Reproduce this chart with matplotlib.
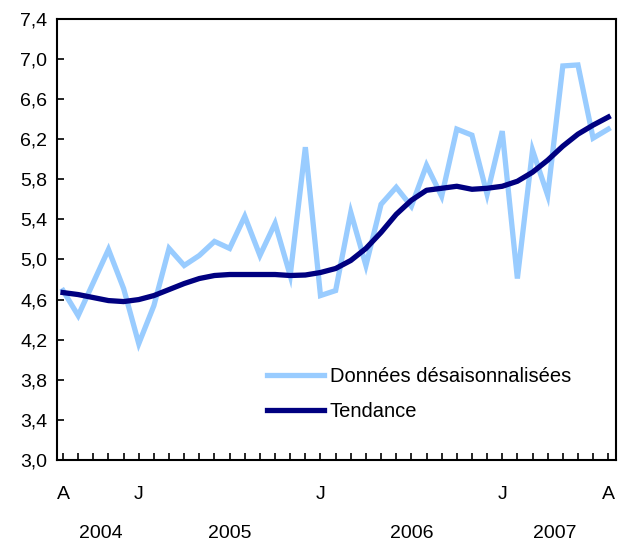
import numpy as np
import matplotlib.pyplot as plt
import matplotlib.transforms as mtransforms

plt.rcParams['font.family'] = ['Liberation Sans', 'DejaVu Sans']

# Monthly data, August 2004 to August 2007
adjusted = [4.69, 4.44, 4.77, 5.10, 4.71, 4.16, 4.54, 5.11, 4.94, 5.04,
            5.18, 5.11, 5.43, 5.04, 5.36, 4.84, 6.12, 4.64, 4.69, 5.47,
            4.94, 5.55, 5.72, 5.53, 5.94, 5.63, 6.30, 6.24, 5.65, 6.28,
            4.81, 6.09, 5.64, 6.93, 6.94, 6.21, 6.30]
trend = [4.67, 4.65, 4.62, 4.59, 4.58, 4.60, 4.64, 4.70, 4.76, 4.81,
         4.84, 4.85, 4.85, 4.85, 4.85, 4.84, 4.845, 4.87, 4.91, 4.99,
         5.11, 5.27, 5.45, 5.59, 5.69, 5.71, 5.73, 5.70, 5.71, 5.73,
         5.78, 5.87, 5.99, 6.13, 6.25, 6.34, 6.42]
month_labels = {0: 'A', 5: 'J', 17: 'J', 29: 'J', 36: 'A'}
years = ['2004', '2005', '2006', '2007']
year_centres = [2.5, 11, 23, 32.5]

months = np.arange(len(adjusted))

fig = plt.figure(figsize=(6.18, 5.44), dpi=100)
ax = fig.add_axes([0.0922, 0.1544, 0.905, 0.811])

ax.plot(months, adjusted, color='#99ccff', lw=3.8, label='Données désaisonnalisées',
        solid_joinstyle='miter')
ax.plot(months, trend, color='#000080', lw=3.8, label='Tendance')

ax.set_xlim(-0.4, 36.53)
ax.set_ylim(3.0, 7.4)

yt = np.arange(3.0, 7.41, 0.4)
ax.set_yticks(yt)
ax.set_yticklabels([f'{v:.1f}'.replace('.', ',') for v in yt])
ax.set_xticks(months)
ax.set_xticklabels([month_labels.get(i, '') for i in months])

ax.tick_params(axis='both', direction='in', length=5, width=1.2, labelsize=14,
               colors='black')
ax.tick_params(axis='y', pad=7)
ax.tick_params(axis='x', pad=19)
for s in ax.spines.values():
    s.set_linewidth(1.5)

trans = mtransforms.blended_transform_factory(ax.transData, ax.transAxes)
for y, xc in zip(years, year_centres):
    ax.text(xc, -0.166, y, transform=trans, ha='center', va='center', fontsize=14)

ax.legend(loc='upper left', bbox_to_anchor=(0.376, 0.211), frameon=False,
          fontsize=14.5, handlelength=2.8, handletextpad=0.3, labelspacing=0.82,
          borderaxespad=0, borderpad=0)

fig.savefig('out.png', dpi=100)
